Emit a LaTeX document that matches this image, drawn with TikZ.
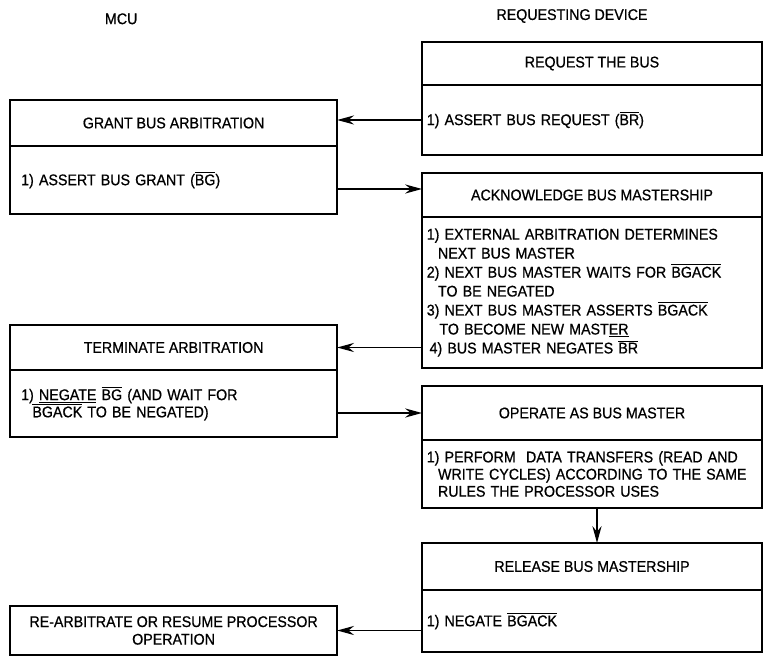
\documentclass[tikz,border=0pt]{standalone}
\usepackage{fontspec}
\setmainfont{Liberation Sans}[FakeStretch=0.92, FakeBold=0.7]
\usetikzlibrary{arrows.meta,positioning}
\newcommand{\sig}[1]{$\overline{\mbox{#1}}$}

\begin{document}
\begin{tikzpicture}[font=\fontsize{11}{13.5}\selectfont, >={Stealth[length=12pt,width=6.5pt,inset=4pt]},
  line join=miter,
  boxbase/.style={draw, line width=1.5pt, outer sep=0pt},
  lefthead/.style={boxbase, inner sep=0pt, minimum width=8.18cm},
  righthead/.style={boxbase, inner sep=0pt, minimum width=8.5cm},
  leftbody/.style={boxbase, inner xsep=0.28cm, inner ysep=0pt, text width=7.62cm, align=left},
  rightbody/.style={boxbase, inner xsep=0.12cm, inner ysep=0pt, text width=8.26cm, align=left},
  flow/.style={->, line width=1pt}]

\useasboundingbox (0,0) rectangle (19.1,16.45);

% ---------- column headers ----------
\node (mcu) at (3.03,15.98) {MCU};
\node (reqdev) at (14.30,16.05) {REQUESTING DEVICE};

% ---------- requesting device ----------
\node[righthead, anchor=north west, minimum height=1.075cm] (reqtitle) at (10.55,15.40) {REQUEST THE BUS};
\node[rightbody, below=0pt of reqtitle, minimum height=1.75cm] (reqbody)
  {1) ASSERT BUS REQUEST (\sig{BR})};

\node[righthead, anchor=north west, minimum height=1.10cm] (acktitle) at (10.55,12.125) {ACKNOWLEDGE BUS MASTERSHIP};
\node[rightbody, below=0pt of acktitle, minimum height=3.775cm] (ackbody)
  {1) EXTERNAL ARBITRATION DETERMINES\\
   \hspace*{8pt}NEXT BUS MASTER\\
   2) NEXT BUS MASTER WAITS FOR \sig{BGACK}\\
   \hspace*{8pt}TO BE NEGATED\\
   3) NEXT BUS MASTER ASSERTS \sig{BGACK}\\
   \hspace*{9pt}TO BECOME NEW MAST\underline{ER}\\
   \hspace*{2pt}4) BUS MASTER NEGATES \sig{BR}};

\node[righthead, anchor=north west, minimum height=1.35cm] (optitle) at (10.55,6.80) {OPERATE AS BUS MASTER};
\node[rightbody, below=0pt of optitle, minimum height=1.70cm, font=\fontsize{11}{12.2}\selectfont] (opbody)
  {1) PERFORM\ \ DATA TRANSFERS (READ AND\\
   \hspace*{8pt}WRITE CYCLES) ACCORDING TO THE SAME\\
   \hspace*{8pt}RULES THE PROCESSOR USES};

\node[righthead, anchor=north west, minimum height=1.175cm] (reltitle) at (10.55,2.875) {RELEASE BUS MASTERSHIP};
\node[rightbody, below=0pt of reltitle, minimum height=1.55cm] (relbody)
  {1) NEGATE \sig{BGACK}};

% ---------- MCU ----------
\node[lefthead, anchor=north west, minimum height=1.15cm] (granttitle) at (0.25,13.95) {GRANT BUS ARBITRATION};
\node[leftbody, below=0pt of granttitle, minimum height=1.70cm] (grantbody)
  {1) ASSERT BUS GRANT (\sig{BG})};

\node[lefthead, anchor=north west, minimum height=1.125cm] (termtitle) at (0.25,8.325) {TERMINATE ARBITRATION};
\node[leftbody, below=0pt of termtitle, minimum height=1.675cm, font=\fontsize{11}{12.2}\selectfont] (termbody)
  {1) \underline{NEGATE} \sig{BG} (AND WAIT FOR\\
   \hspace*{8pt}\sig{BGACK} TO BE NEGATED)};

\node[lefthead, anchor=north west, minimum height=1.225cm, align=center, font=\fontsize{11}{12.5}\selectfont] (rearb) at (0.25,1.30)
  {RE-ARBITRATE OR RESUME PROCESSOR\\OPERATION};

% ---------- handshake ----------
\draw[flow] (reqbody.west) -- (reqbody.west -| granttitle.east);
\draw[flow] ([yshift=-0.225cm]grantbody.east) coordinate (gout) -- (gout -| acktitle.west);
\draw[flow] (termtitle.east -| ackbody.west) -- (termtitle.east);
\draw[flow] (optitle.west -| termbody.east) -- (optitle.west);
\draw[flow] ([xshift=0.125cm]opbody.south) -- ([xshift=0.125cm]reltitle.north);
\draw[flow] (rearb.east -| relbody.west) -- (rearb.east);

\end{tikzpicture}
\end{document}
